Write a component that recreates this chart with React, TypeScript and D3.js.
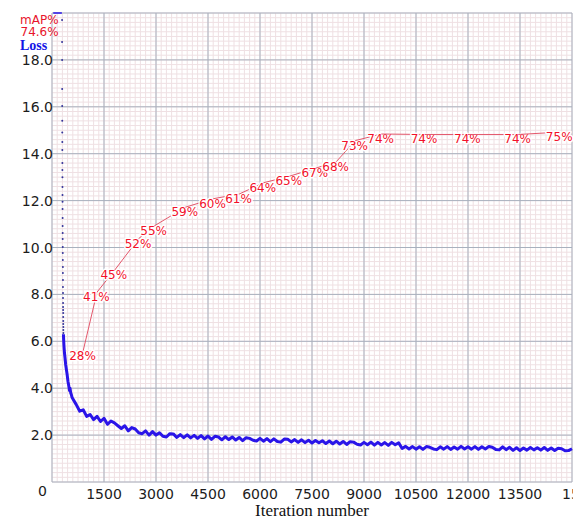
import React, { useEffect, useRef } from 'react';
import * as d3 from 'd3';

const W = 578;
const H = 521;

// axis ticks
const lossTicks = [0, 2, 4, 6, 8, 10, 12, 14, 16, 18, 20];
const lossTickLabels = ['0', '2.0', '4.0', '6.0', '8.0', '10.0', '12.0', '14.0', '16.0', '18.0', ''];
const iterTicks = [0, 1500, 3000, 4500, 6000, 7500, 9000, 10500, 12000, 13500, 15000];
const iterTickLabels = ['', '1500', '3000', '4500', '6000', '7500', '9000', '10500', '12000', '13500', '15000'];

// loss above the chart top (drawn clamped at 20)
const lossClipped: [number, number][] = [[35, 24.6], [110, 23.2], [180, 22.4], [250, 21.3], [285, 20.4]];

// first iterations: sparse dots falling down the left edge
const lossDots: [number, number][] = [
  [290, 19.7], [291, 18.76], [292, 18.0], [293, 16.76], [294, 16.03], [295, 15.4], [296, 14.9],
  [297, 14.5], [298, 14.16], [299, 13.6], [300, 13.3], [301, 13.0], [302, 12.58], [303, 12.24],
  [304, 11.95], [305, 11.64], [306, 11.26], [307, 10.92], [308, 10.62], [309, 10.36], [310, 10.02],
  [311, 9.77], [312, 9.47], [313, 9.17], [314, 8.91], [315, 8.61], [316, 8.32], [317, 8.06],
  [318, 7.85], [319, 7.63], [320, 7.46], [321, 7.33], [322, 7.21], [323, 7.04], [324, 6.87],
  [325, 6.74], [326, 6.61], [327, 6.48], [328, 6.35],
];

// steep part of the curve
const lossHead: [number, number][] = [
  [330, 6.3], [335, 6.1], [345, 5.8], [360, 5.5], [375, 5.3], [395, 5.0], [415, 4.8], [435, 4.6],
  [460, 4.3], [490, 4.05], [505, 3.9], [520, 4.0], [540, 3.8], [560, 3.72], [580, 3.6],
];

// loss every 100 iterations from 600 on
const lossTailStart = 600;
const lossTailStep = 100;
const lossTail = [
  3.55, 3.30, 3.02, 3.08, 2.80,
  2.88, 2.66, 2.80, 2.58, 2.72, 2.46, 2.60, 2.52, 2.40, 2.28,
  2.40, 2.18, 2.32, 2.26, 2.10, 2.06, 2.18, 2.00, 2.15, 2.00,
  2.10, 1.95, 1.92, 2.06, 2.05, 1.90, 2.02, 1.89, 2.01, 1.88,
  1.99, 1.86, 1.98, 1.84, 1.96, 1.82, 1.95, 1.92, 1.80, 1.93,
  1.81, 1.92, 1.79, 1.90, 1.76, 1.89, 1.86, 1.78, 1.75, 1.86,
  1.74, 1.85, 1.72, 1.84, 1.73, 1.70, 1.83, 1.82, 1.71, 1.81,
  1.69, 1.80, 1.68, 1.78, 1.66, 1.77, 1.67, 1.76, 1.64, 1.75,
  1.63, 1.74, 1.62, 1.73, 1.60, 1.72, 1.70, 1.61, 1.58, 1.69,
  1.59, 1.70, 1.57, 1.69, 1.58, 1.68, 1.56, 1.69, 1.59, 1.67,
  1.43, 1.52, 1.41, 1.51, 1.40, 1.50, 1.39, 1.51, 1.48, 1.41,
  1.38, 1.50, 1.40, 1.51, 1.39, 1.49, 1.40, 1.52, 1.41, 1.50,
  1.40, 1.51, 1.39, 1.50, 1.41, 1.51, 1.48, 1.39, 1.37, 1.50,
  1.38, 1.48, 1.35, 1.46, 1.34, 1.45, 1.36, 1.47, 1.37, 1.46,
  1.36, 1.47, 1.35, 1.45, 1.34, 1.44, 1.42, 1.33, 1.34, 1.42,
];

// mAP checkpoints
const mapIters = [900, 1300, 1800, 2500, 2950, 3850, 4650, 5400, 6100, 6850, 7600, 8200, 8750, 9500, 10750, 12000, 13450, 14650];
const mapValues = [28.0, 40.5, 45.1, 51.9, 54.6, 58.6, 60.4, 61.4, 63.8, 65.2, 66.9, 68.3, 72.8, 74.2, 74.1, 74.1, 74.1, 74.6];
const mapLabels = ['28%', '41%', '45%', '52%', '55%', '59%', '60%', '61%', '64%', '65%', '67%', '68%', '73%', '74%', '74%', '74%', '74%', '75%'];

export default function App() {
  const svgRef = useRef<SVGSVGElement>(null);

  useEffect(() => {
    if (!svgRef.current) return;
    const svg = d3.select(svgRef.current);
    svg.selectAll('*').remove();

    const left = 52, right = 572, top = 13, bottom = 482;
    const x = d3.scaleLinear().domain([0, 15000]).range([left, right]);
    const y = d3.scaleLinear().domain([0, 20]).range([bottom, top]).clamp(true);
    const yMap = d3.scaleLinear().domain([0, 100]).range([bottom, top]);

    svg.append('rect').attr('width', W).attr('height', H).attr('fill', '#fff');

    // minor grid
    const g = svg.append('g');
    g.selectAll('.vminor')
      .data(d3.range(0, 15001, 150))
      .enter().append('line')
      .attr('x1', d => x(d)).attr('x2', d => x(d))
      .attr('y1', top).attr('y2', bottom)
      .attr('stroke', '#efe0e3').attr('stroke-width', 1);
    g.selectAll('.hminor')
      .data(d3.range(0, 100.5, 1))
      .enter().append('line')
      .attr('x1', left).attr('x2', right)
      .attr('y1', d => yMap(d)).attr('y2', d => yMap(d))
      .attr('stroke', '#efe0e3').attr('stroke-width', 1);

    // major grid
    g.selectAll('.vmajor')
      .data(iterTicks)
      .enter().append('line')
      .attr('x1', d => x(d)).attr('x2', d => x(d))
      .attr('y1', top).attr('y2', bottom)
      .attr('stroke', '#a8b1be').attr('stroke-width', 1);
    g.selectAll('.hmajor')
      .data(lossTicks)
      .enter().append('line')
      .attr('x1', left).attr('x2', right)
      .attr('y1', d => y(d)).attr('y2', d => y(d))
      .attr('stroke', '#a8b1be').attr('stroke-width', 1);

    // loss clamped at the top
    const line = d3.line<[number, number]>().x(d => x(d[0])).y(d => y(d[1]));
    svg.append('path')
      .attr('d', line(lossClipped))
      .attr('fill', 'none')
      .attr('stroke', '#2a14e8')
      .attr('stroke-width', 1.5);

    // early dots
    svg.selectAll('.dot')
      .data(lossDots)
      .enter().append('circle')
      .attr('cx', d => x(d[0]))
      .attr('cy', d => y(d[1]))
      .attr('r', 1)
      .attr('fill', '#34349a');

    // loss curve
    const lossPts: [number, number][] = [
      ...lossHead,
      ...lossTail.map((v, i) => [lossTailStart + i * lossTailStep, v] as [number, number]),
    ];
    svg.append('path')
      .attr('d', line(lossPts))
      .attr('fill', 'none')
      .attr('stroke', '#2a14e8')
      .attr('stroke-width', 3)
      .attr('stroke-linejoin', 'round');

    // mAP line + labels (label halo covers the incoming segment, like darknet)
    const mg = svg.append('g');
    mapIters.forEach((it, i) => {
      const px = x(it), py = yMap(mapValues[i]);
      mg.append('text')
        .attr('x', px - 14)
        .attr('y', py + 9)
        .attr('font-family', 'DejaVu Sans')
        .attr('font-size', 12)
        .attr('fill', '#f2102a')
        .attr('stroke', '#fff')
        .attr('stroke-width', 3)
        .attr('stroke-linejoin', 'round')
        .attr('paint-order', 'stroke')
        .text(mapLabels[i]);
      if (i < mapIters.length - 1) {
        mg.append('line')
          .attr('x1', px).attr('y1', py)
          .attr('x2', x(mapIters[i + 1])).attr('y2', yMap(mapValues[i + 1]))
          .attr('stroke', '#e4586c')
          .attr('stroke-width', 1);
      }
    });

    // y tick labels
    svg.selectAll('.ylab')
      .data(lossTicks)
      .enter().append('text')
      .attr('x', d => (d === 0 ? 47 : 53))
      .attr('y', d => (d === 0 ? 496 : y(d) + 5))
      .attr('text-anchor', 'end')
      .attr('font-family', 'DejaVu Sans')
      .attr('font-size', 14)
      .attr('fill', '#1c1c1c')
      .text((d, i) => lossTickLabels[i]);

    // x tick labels, last one clipped at the image edge
    const defs = svg.append('defs');
    defs.append('clipPath').attr('id', 'xlabClip')
      .append('rect').attr('x', 0).attr('y', 480).attr('width', 573).attr('height', 30);
    svg.append('g').attr('clip-path', 'url(#xlabClip)')
      .selectAll('.xlab')
      .data(iterTicks)
      .enter().append('text')
      .attr('x', (d, i) => (i === iterTicks.length - 1 ? x(d) - 10 : x(d)))
      .attr('y', 499)
      .attr('text-anchor', (d, i) => (i === iterTicks.length - 1 ? 'start' : 'middle'))
      .attr('font-family', 'DejaVu Sans')
      .attr('font-size', 14)
      .attr('fill', '#1c1c1c')
      .text((d, i) => iterTickLabels[i]);

    svg.append('text')
      .attr('x', 312)
      .attr('y', 516)
      .attr('text-anchor', 'middle')
      .attr('font-family', 'Liberation Serif')
      .attr('font-size', 17)
      .attr('fill', '#111')
      .text('Iteration number');

    // header
    svg.append('text')
      .attr('x', 20).attr('y', 23.5)
      .attr('font-family', 'DejaVu Sans').attr('font-size', 12)
      .attr('fill', '#e8142c')
      .text('mAP%');
    svg.append('text')
      .attr('x', 20.5).attr('y', 36)
      .attr('font-family', 'DejaVu Sans').attr('font-size', 12)
      .attr('fill', '#e8142c')
      .text('74.6%');
    svg.append('text')
      .attr('x', 20).attr('y', 49.5)
      .attr('font-family', 'Liberation Serif').attr('font-size', 14)
      .attr('font-weight', 'bold')
      .attr('fill', '#1414e6')
      .text('Loss');
  }, []);

  return (
    <div style={{ position: 'absolute', left: 0, top: 0 }}>
      <svg ref={svgRef} width={W} height={H} style={{ display: 'block' }} />
    </div>
  );
}
